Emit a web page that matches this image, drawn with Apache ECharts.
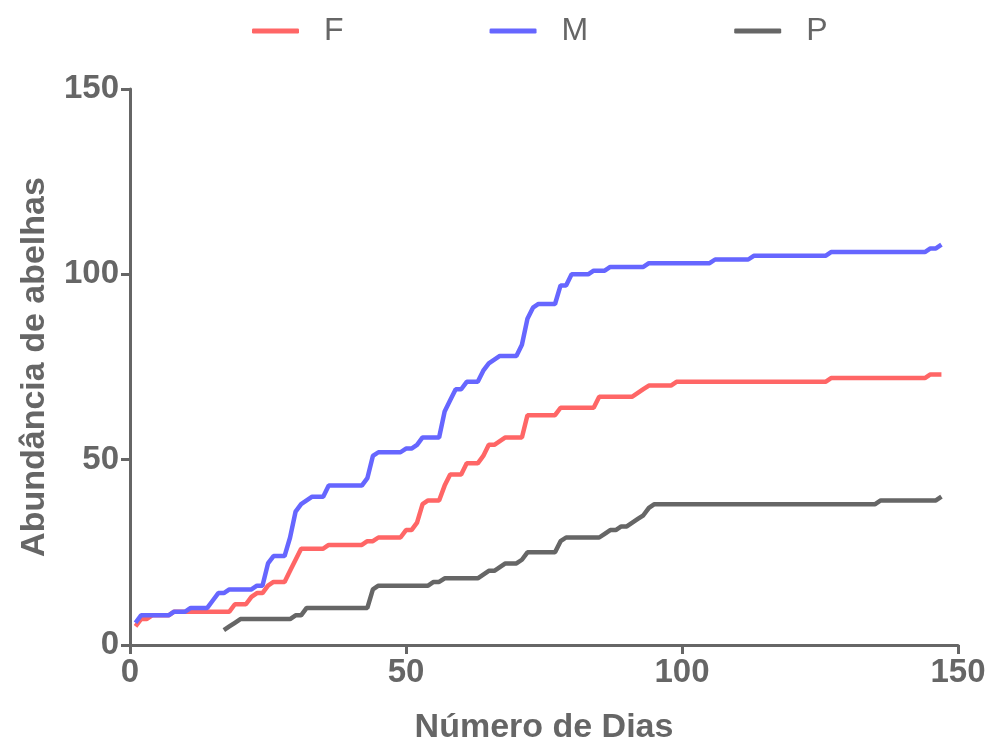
<!DOCTYPE html>
<html>
<head>
<meta charset="utf-8">
<script src="https://cdn.jsdelivr.net/npm/echarts@6/dist/echarts.min.js"></script>
<style>
  html, body { margin: 0; padding: 0; background: #fff; }
  #chart { width: 994px; height: 743px; }
</style>
</head>
<body>
<div id="chart"></div>
<script>
// [day, cumulative abundance] at each change point
const seriesNames = ['F', 'M', 'P']
const dataF = [
  [1, 5], [2, 7], [3, 7], [4, 8], [7, 8], [8, 9], [18, 9], [19, 11], [21, 11], [22, 13],
  [23, 14], [24, 14], [25, 16], [26, 17], [28, 17], [29, 20], [30, 23], [31, 26], [35, 26],
  [36, 27], [42, 27], [43, 28], [44, 28], [45, 29], [49, 29], [50, 31], [51, 31], [52, 33],
  [53, 38], [54, 39], [56, 39], [57, 43], [58, 46], [60, 46], [61, 49], [63, 49], [64, 51],
  [65, 54], [66, 54], [67, 55], [68, 56], [71, 56], [72, 62], [77, 62], [78, 64], [84, 64],
  [85, 67], [91, 67], [92, 68], [93, 69], [94, 70], [98, 70], [99, 71], [126, 71], [127, 72],
  [144, 72], [145, 73], [147, 73]
]
const dataM = [
  [1, 6], [2, 8], [7, 8], [8, 9], [10, 9], [11, 10], [14, 10], [15, 12], [16, 14], [17, 14],
  [18, 15], [22, 15], [23, 16], [24, 16], [25, 22], [26, 24], [28, 24], [29, 29], [30, 36],
  [31, 38], [32, 39], [33, 40], [35, 40], [36, 43], [42, 43], [43, 45], [44, 51], [45, 52],
  [49, 52], [50, 53], [51, 53], [52, 54], [53, 56], [56, 56], [57, 63], [58, 66], [59, 69],
  [60, 69], [61, 71], [63, 71], [64, 74], [65, 76], [66, 77], [67, 78], [70, 78], [71, 81],
  [72, 88], [73, 91], [74, 92], [77, 92], [78, 97], [79, 97], [80, 100], [83, 100], [84, 101],
  [86, 101], [87, 102], [93, 102], [94, 103], [105, 103], [106, 104], [112, 104], [113, 105],
  [126, 105], [127, 106], [144, 106], [145, 107], [146, 107], [147, 108]
]
const dataP = [
  [17, 4], [18, 5], [19, 6], [20, 7], [29, 7], [30, 8], [31, 8], [32, 10], [43, 10], [44, 15],
  [45, 16], [54, 16], [55, 17], [56, 17], [57, 18], [63, 18], [64, 19], [65, 20], [66, 20],
  [67, 21], [68, 22], [70, 22], [71, 23], [72, 25], [77, 25], [78, 28], [79, 29], [85, 29],
  [86, 30], [87, 31], [88, 31], [89, 32], [90, 32], [91, 33], [92, 34], [93, 35], [94, 37],
  [95, 38], [135, 38], [136, 39], [146, 39], [147, 40]
]
const colors = ['#ff6666', '#6666ff', '#666666']

const chart = echarts.init(document.getElementById('chart'))

const axisCommon = {
  type: 'value',
  min: 0,
  max: 150,
  interval: 50,
  nameLocation: 'middle',
  nameTextStyle: { fontFamily: 'Liberation Sans', fontWeight: 'bold', fontSize: 34, color: '#666' },
  axisLine: { show: true, lineStyle: { color: '#666', width: 3 } },
  axisTick: { show: true, length: 9, lineStyle: { color: '#666', width: 3 } },
  axisLabel: { fontFamily: 'Liberation Sans', fontWeight: 'bold', fontSize: 33, color: '#666', margin: 11 },
  splitLine: { show: false }
}

const option = {
  animation: false,
  backgroundColor: '#fff',
  color: colors,
  legend: {
    top: 10,
    left: 247,
    icon: 'roundRect',
    itemWidth: 47,
    itemHeight: 5,
    itemGap: 146,
    textStyle: { fontFamily: 'Liberation Sans', fontSize: 32, color: '#666', padding: [0, 0, 0, 20] },
    data: seriesNames
  },
  grid: { left: 130, right: 36, top: 89, bottom: 98, containLabel: false, outerBoundsMode: 'none' },
  xAxis: Object.assign({}, axisCommon, { name: 'Número de Dias', nameGap: 66 }),
  yAxis: Object.assign({}, axisCommon, { name: 'Abundância de abelhas', nameGap: 78 }),
  series: [dataF, dataM, dataP].map((d, i) => ({
    name: seriesNames[i],
    type: 'line',
    data: d,
    showSymbol: false,
    lineStyle: { width: 4.5, color: colors[i] },
    itemStyle: { color: colors[i] }
  }))
}

chart.setOption(option)
</script>
</body>
</html>
